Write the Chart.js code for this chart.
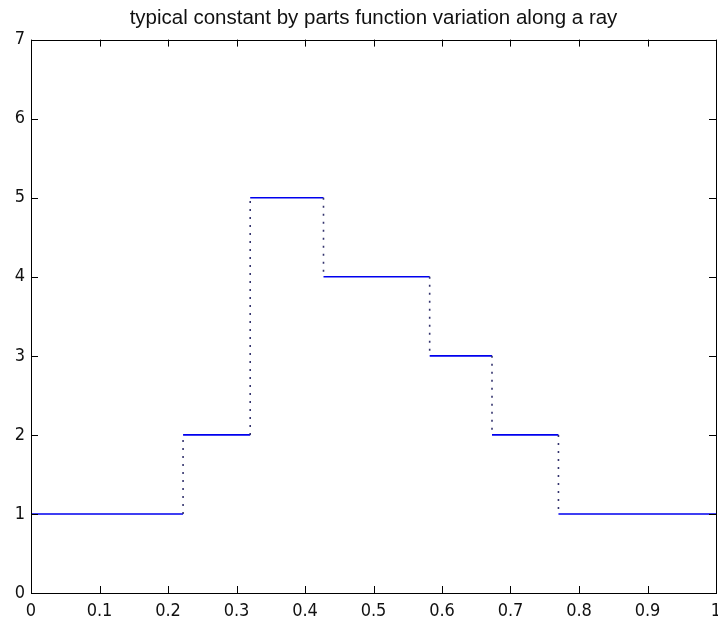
<!DOCTYPE html>
<html>
<head>
<meta charset="utf-8">
<title>typical constant by parts function variation along a ray</title>
<script src="https://cdn.jsdelivr.net/npm/chart.js@4.4.1/dist/chart.umd.min.js"></script>
<style>
  html, body { margin: 0; padding: 0; background: #fff; }
  #wrap { width: 718px; height: 623px; }
</style>
</head>
<body>
<div id="wrap"><canvas id="ray-chart" width="718" height="623"></canvas></div>
<script>
  // ---- Data: breakpoints along the ray and the constant value on each piece ----
  const breaks = [0, 0.222, 0.320, 0.427, 0.582, 0.673, 0.770, 1];
  const levels = [1, 2, 5, 4, 3, 2, 1];
  const xTicks = [0, 0.1, 0.2, 0.3, 0.4, 0.5, 0.6, 0.7, 0.8, 0.9, 1];
  const yTicks = [0, 1, 2, 3, 4, 5, 6, 7];
  const titleText = 'typical constant by parts function variation along a ray';

  // solid horizontal runs, split by null gaps
  const runs = [];
  levels.forEach((v, i) => {
    if (i > 0) runs.push({ x: breaks[i], y: null });
    runs.push({ x: breaks[i], y: v });
    runs.push({ x: breaks[i + 1], y: v });
  });

  // dotted vertical jumps between neighbouring runs
  const jumps = [];
  for (let i = 1; i < levels.length; i++) {
    if (i > 1) jumps.push({ x: breaks[i], y: null });
    jumps.push({ x: breaks[i], y: levels[i - 1] });
    jumps.push({ x: breaks[i], y: levels[i] });
  }

  const NARROW = "'Liberation Sans Narrow', 'DejaVu Sans Condensed', 'Liberation Sans', Arial, sans-serif";
  const SANS = "'Liberation Sans', Arial, sans-serif";
  const TICK_LEN = 7;

  // MATLAB-style box with inward ticks on all four sides
  const boxTicks = {
    id: 'boxTicks',
    afterDraw(chart) {
      const { ctx, chartArea: a, scales } = chart;
      ctx.save();
      ctx.strokeStyle = '#000';
      ctx.lineWidth = 1;
      ctx.beginPath();
      xTicks.forEach(t => {
        const px = Math.round(scales.x.getPixelForValue(t)) + 0.5;
        ctx.moveTo(px, a.bottom); ctx.lineTo(px, a.bottom - TICK_LEN);
        ctx.moveTo(px, a.top);    ctx.lineTo(px, a.top + TICK_LEN);
      });
      yTicks.forEach(t => {
        const py = Math.round(scales.y.getPixelForValue(t)) + 0.5;
        ctx.moveTo(a.left, py);  ctx.lineTo(a.left + TICK_LEN, py);
        ctx.moveTo(a.right, py); ctx.lineTo(a.right - TICK_LEN, py);
      });
      ctx.stroke();
      ctx.strokeRect(Math.round(a.left) + 0.5, Math.round(a.top) + 0.5,
                     Math.round(a.right - a.left), Math.round(a.bottom - a.top));
      ctx.restore();
    }
  };

  new Chart(document.getElementById('ray-chart'), {
    type: 'scatter',
    data: {
      datasets: [
        {
          data: jumps,
          showLine: true,
          spanGaps: false,
          borderColor: '#34346e',
          borderWidth: 1.6,
          borderDash: [2, 6],
          pointRadius: 0
        },
        {
          data: runs,
          showLine: true,
          spanGaps: false,
          borderColor: '#0000ee',
          borderWidth: 1.6,
          pointRadius: 0
        }
      ]
    },
    options: {
      responsive: false,
      animation: false,
      layout: { padding: { top: 3, right: 2, left: 0, bottom: 0 } },
      plugins: {
        legend: { display: false },
        tooltip: { enabled: false },
        title: {
          display: true,
          fullSize: false, // centre over the plot box, not the canvas
          text: titleText,
          color: '#111',
          font: { family: SANS, size: 20.5, weight: 'normal' },
          padding: { top: 3, bottom: 9 }
        }
      },
      scales: {
        x: {
          type: 'linear',
          min: 0, max: 1,
          afterBuildTicks: s => { s.ticks = xTicks.map(v => ({ value: v })); },
          afterFit: s => { s.height = 30; s.paddingLeft = 0; s.paddingRight = 0; },
          grid: { display: false, drawTicks: false },
          border: { display: false },
          ticks: {
            color: '#111',
            padding: 8,
            maxRotation: 0,
            autoSkip: false,
            font: { family: NARROW, size: 18 },
            callback: v => String(+v.toFixed(1))
          }
        },
        y: {
          type: 'linear',
          min: 0, max: 7,
          afterBuildTicks: s => { s.ticks = yTicks.map(v => ({ value: v })); },
          afterFit: s => { s.width = 31; s.paddingTop = 0; s.paddingBottom = 0; },
          grid: { display: false, drawTicks: false },
          border: { display: false },
          ticks: {
            color: '#111',
            padding: 6,
            autoSkip: false,
            font: { family: NARROW, size: 18 }
          }
        }
      }
    },
    plugins: [boxTicks]
  });
</script>
</body>
</html>
